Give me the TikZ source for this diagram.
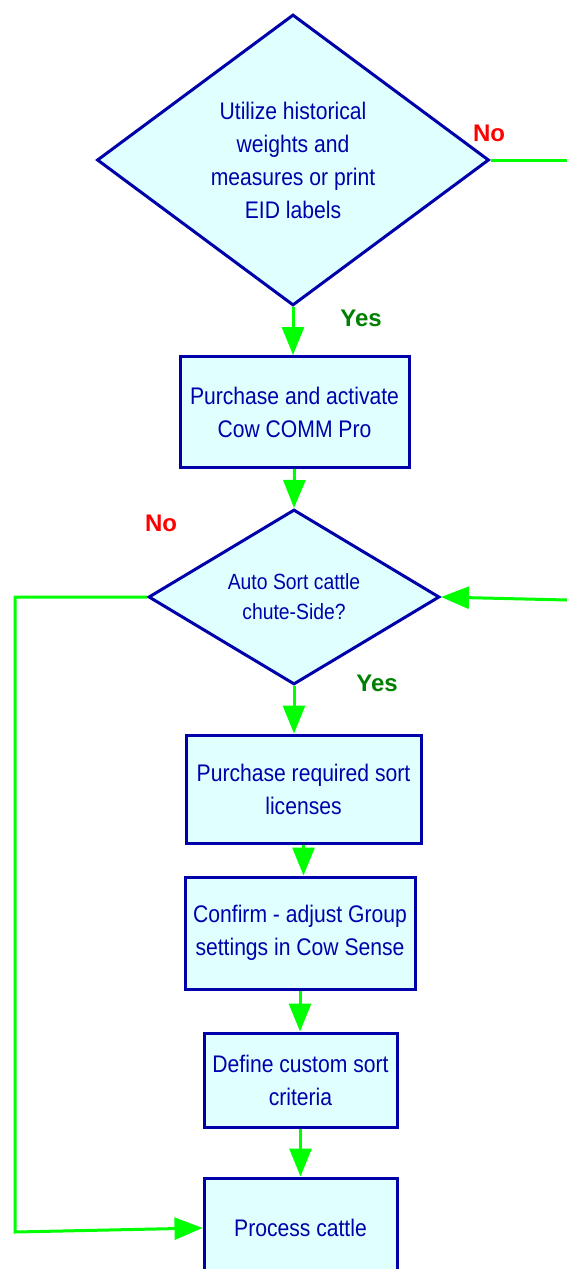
\documentclass[tikz,border=0pt]{standalone}
\usepackage{fontspec}
\setmainfont{Liberation Sans}
\newfontfamily\flowfont[FakeStretch=0.88]{Liberation Sans}
\usepackage{xcolor}
\usepackage{tikz}
\usetikzlibrary{arrows.meta, positioning, shapes.geometric}
\definecolor{flowblue}{RGB}{0, 0, 170}
\definecolor{flowfill}{RGB}{224, 255, 255}
\definecolor{flowgreen}{RGB}{0, 255, 0}
\definecolor{yesgreen}{RGB}{0, 128, 0}
\definecolor{nored}{RGB}{255, 0, 0}

\begin{document}
\begin{tikzpicture}[x=0.5pt, y=-0.5pt, >={Triangle[length=14pt, width=11pt]},
    stepbox/.style={draw=flowblue, fill=flowfill, line width=1.5pt, text=flowblue, align=center, inner sep=0pt, font=\flowfont\fontsize{12}{16.5}\selectfont},
    decision/.style={diamond, draw=flowblue, fill=flowfill, line width=1.5pt, text=flowblue, align=center, inner sep=0pt},
    flow/.style={flowgreen, line width=1.5pt},
    yeslabel/.style={text=yesgreen, font=\bfseries\fontsize{12}{14}\selectfont},
    nolabel/.style={text=nored, font=\bfseries\fontsize{12}{14}\selectfont}]
    \useasboundingbox (0,0) rectangle (567,1269);
    \node[decision, minimum width=196pt, minimum height=145.5pt, aspect=1.35, font=\flowfont\fontsize{12}{16.5}\selectfont] (history) at (293,160) {Utilize historical\\weights and\\measures or print\\EID labels};
    \node[stepbox, minimum width=114.5pt, minimum height=55.5pt] (activate) at (294.5,412) {Purchase and activate\\Cow COMM Pro};
    \node[decision, minimum width=145.5pt, minimum height=87.5pt, aspect=1.66, font=\flowfont\fontsize{11}{15}\selectfont] (chute) at (294,597) {Auto Sort cattle\\chute-Side?};
    \node[stepbox, minimum width=117.5pt, minimum height=54pt] (licenses) at (303.5,789) {Purchase required sort\\licenses};
    \node[stepbox, minimum width=115pt, minimum height=56pt] (groups) at (300,933) {Confirm - adjust Group\\settings in Cow Sense};
    \node[stepbox, minimum width=96.5pt, minimum height=47pt] (criteria) at (300.5,1080) {Define custom sort\\criteria};
    \node[stepbox, minimum width=96.5pt, minimum height=50pt] (process) at (300.5,1228) {Process cattle};
    \node[yeslabel] (yestop) at (361,318) {Yes};
    \node[nolabel] (notop) at (489,133) {No};
    \node[nolabel] (nosort) at (161,523) {No};
    \node[yeslabel] (yessort) at (377,683) {Yes};
    \coordinate (noexit) at (567,160);
    \coordinate (noentry) at (567,600);
    \coordinate (loopcorner) at (15,1232);
    \draw[flow, ->] (history.south) -- (history.south |- activate.north);
    \draw[flow, ->] (activate.south) -- (chute.north);
    \draw[flow, ->] (chute.south) -- (chute.south |- licenses.north);
    \draw[flow, ->] (licenses.south) -- (licenses.south |- groups.north);
    \draw[flow, ->] (groups.south) -- (groups.south |- criteria.north);
    \draw[flow, ->] (criteria.south) -- (criteria.south |- process.north);
    \draw[flow] (history.east) -- (noexit);
    \draw[flow, ->] (noentry) -- (chute.east);
    \draw[flow, ->] (chute.west) -- (chute.west -| loopcorner) -- (loopcorner) -- (process.west);
\end{tikzpicture}
\end{document}
